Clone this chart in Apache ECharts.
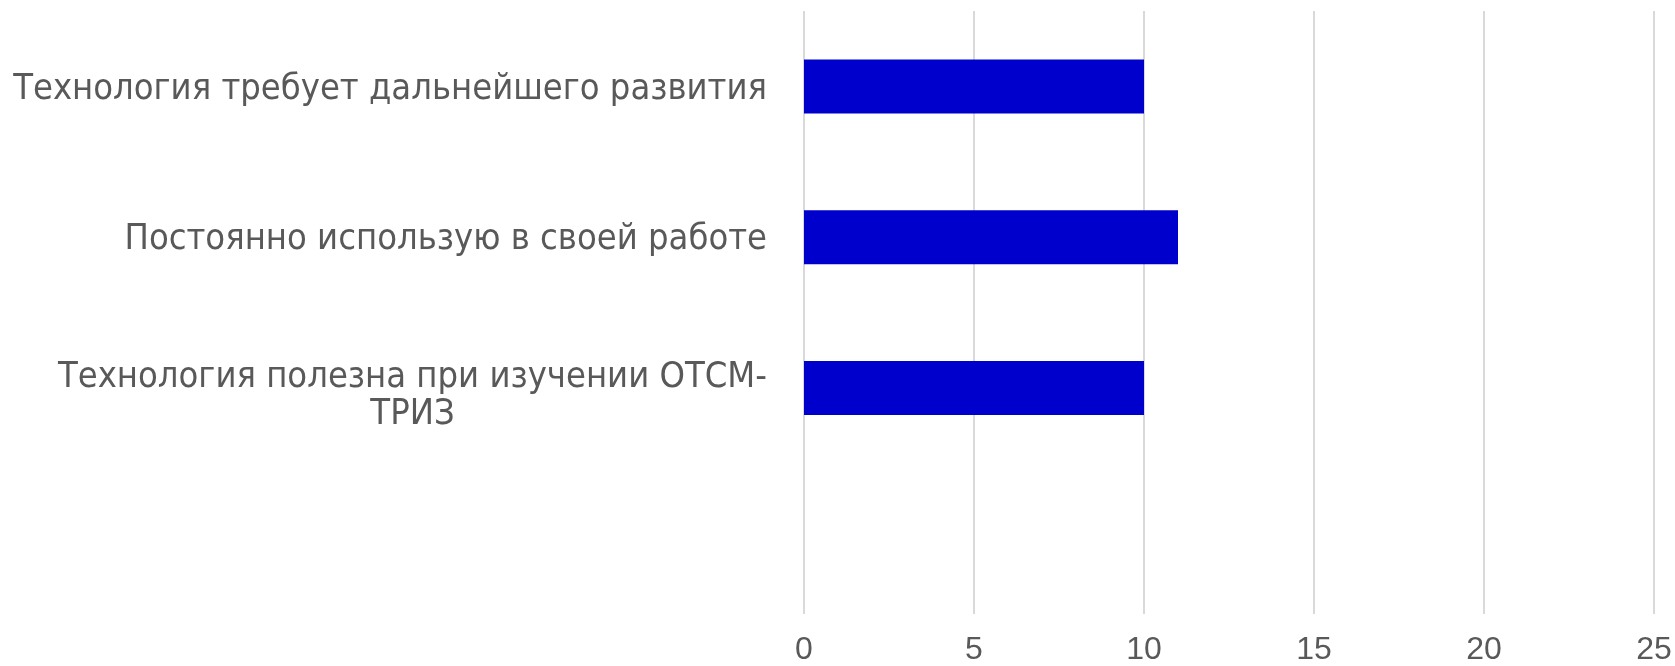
<!DOCTYPE html>
<html><head><meta charset="utf-8">
<script src="https://cdn.jsdelivr.net/npm/echarts@6/dist/echarts.min.js"></script>
<style>html,body{margin:0;padding:0;background:#fff}#c{width:1675px;height:666px}</style>
</head><body><div id="c"></div>
<script>
const categories = ['Технология требует дальнейшего развития', 'Постоянно использую в своей работе', 'Технология полезна при изучении ОТСМ-\nТРИЗ', ''];
const values = [10, 11, 10, null];
const xTicks = [0, 5, 10, 15, 20, 25];

const chart = echarts.init(document.getElementById('c'));
const labelStyle = { color: '#595959', fontSize: 36, fontFamily: 'DejaVu Sans Condensed', align: 'center', lineHeight: 37 };
chart.setOption({
  animation: false,
  grid: { left: 804, right: 21, top: 11, bottom: 52 },
  xAxis: {
    type: 'value', min: xTicks[0], max: xTicks[xTicks.length - 1], interval: 5,
    axisLine: { show: false }, axisTick: { show: false },
    splitLine: { lineStyle: { color: '#d9d9d9', width: 2 } },
    axisLabel: { color: '#595959', fontSize: 32, fontFamily: 'Liberation Sans', margin: 20 }
  },
  yAxis: {
    type: 'category',
    data: categories.map(c => c.includes('\n') ? { value: c, textStyle: { padding: [16, 0, 0, 0] } } : c),
    inverse: true,
    axisLine: { show: false }, axisTick: { show: false },
    axisLabel: {
      margin: 37,
      padding: [6, 0, 0, 0],
      formatter: v => v.split('\n').map(s => '{c|' + s + '}').join('\n'),
      rich: { c: labelStyle }
    }
  },
  series: [{
    type: 'bar', data: values, barWidth: 54,
    itemStyle: { color: '#0000CC' }
  }]
});
</script></body></html>
